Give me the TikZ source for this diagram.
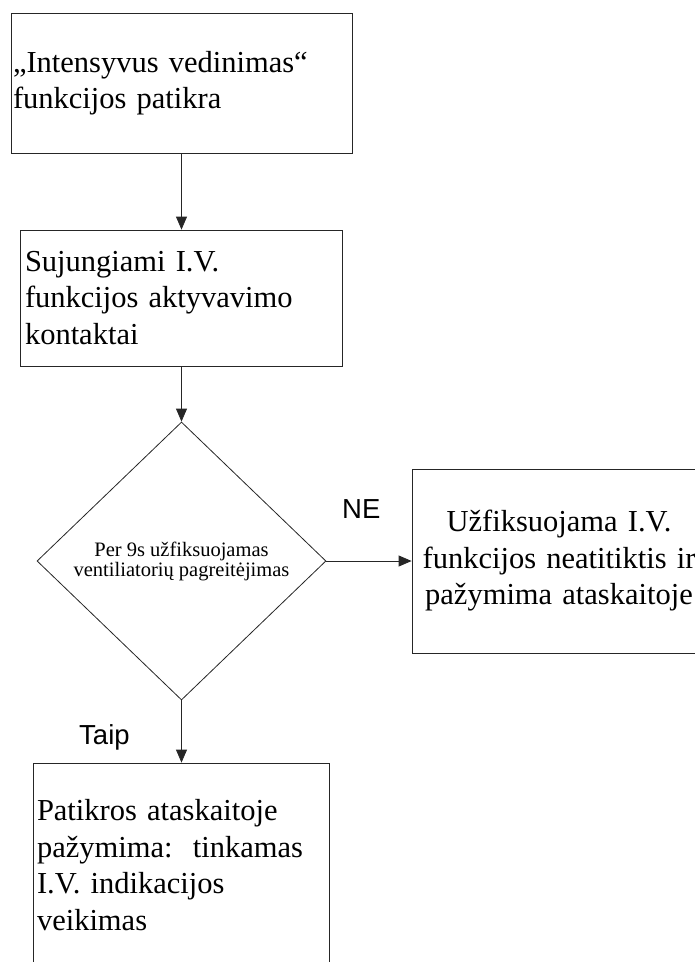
\documentclass[tikz,border=0pt]{standalone}
\usepackage{fontspec}
\setmainfont{Liberation Serif}
\newfontfamily\diafont{Liberation Serif}
\newfontfamily\lblfont{Liberation Sans}
\usetikzlibrary{shapes.geometric,arrows.meta}

\tikzset{
  flowline/.style={line width=0.8pt, draw=black!85},
  procbox/.style={flowline, rectangle, inner ysep=0pt, align=left,
    font=\fontsize{30.5}{36.5}\selectfont},
  decision/.style={flowline, diamond, inner sep=0pt, align=center,
    minimum width=289pt, minimum height=278pt,
    font=\diafont\fontsize{20.5}{20}\selectfont},
  branchlabel/.style={inner sep=0pt, font=\lblfont\fontsize{27.5}{30}\selectfont},
  flowarrow/.style={flowline, -{Triangle[length=13pt,width=11pt]}}
}

\begin{document}
\begin{tikzpicture}[x=1pt, y=-1pt]
  \useasboundingbox (0,0) rectangle (695,962);
  \clip (0,0) rectangle (695,962);

  % process steps
  \node[procbox, inner xsep=2pt, minimum width=341pt, text width=337pt,
        minimum height=140pt] (start) at (181.5,83)
    {„Intensyvus vedinimas“\\funkcijos patikra};
  \node[procbox, inner xsep=5pt, minimum width=322pt, text width=312pt,
        minimum height=136pt] (connect) at (181,298)
    {Sujungiami I.V.\\funkcijos aktyvavimo\\kontaktai};

  % decision
  \node[decision] (check) at (181.5,561)
    {Per 9s užfiksuojamas\\ventiliatorių pagreitėjimas};

  % outcomes
  \node[procbox, align=center, inner xsep=2pt, minimum width=294pt,
        text width=290pt, minimum height=184pt] (fail) at (559,561)
    {Užfiksuojama I.V.\\funkcijos neatitiktis ir\\pažymima ataskaitoje};
  \node[procbox, inner xsep=4pt, minimum width=296pt, text width=288pt,
        minimum height=204pt] (pass) at (181,865)
    {Patikros ataskaitoje\\pažymima:\ \ tinkamas\\I.V. indikacijos\\veikimas};

  % branch labels
  \node[branchlabel, anchor=base west] (no) at (342,518) {NE};
  \node[branchlabel, anchor=base west] (yes) at (79,744) {Taip};

  % connectors
  \draw[flowarrow] (start.south) -- (start.south |- connect.north);
  \draw[flowarrow] (connect.south) -- (connect.south -| check.north) -- (check.north);
  \draw[flowarrow] (check.east) -- (fail.west);
  \draw[flowarrow] (check.south) -- (check.south |- pass.north);
\end{tikzpicture}
\end{document}
